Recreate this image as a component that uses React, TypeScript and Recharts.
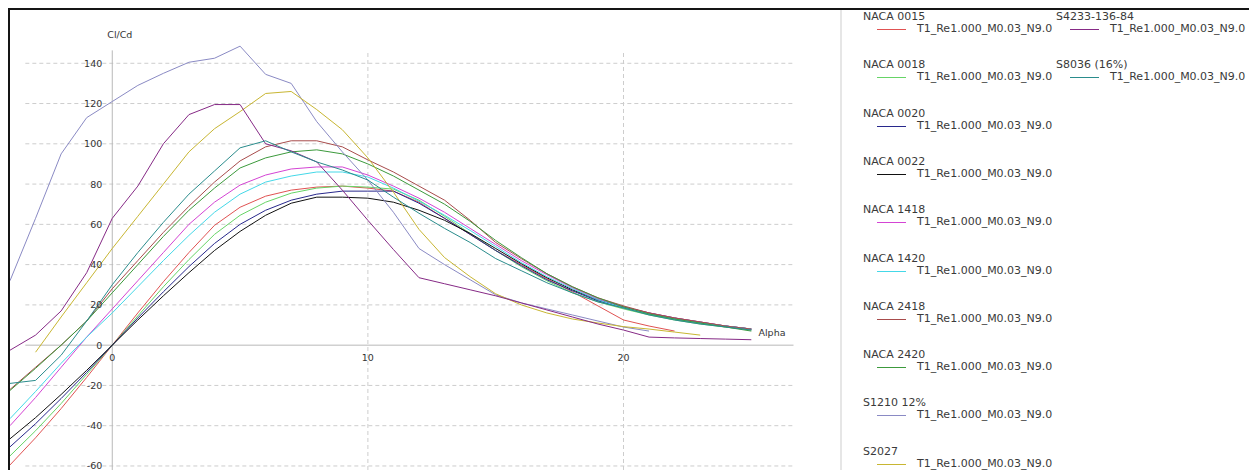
import React from 'react';
import { LineChart, Line, XAxis, YAxis, ReferenceLine, ReferenceDot } from 'recharts';

// angle of attack, one point per degree
const ALPHA = [-4, -3, -2, -1, 0, 1, 2, 3, 4, 5, 6, 7, 8, 9, 10, 11, 12, 13, 14, 15, 16, 17, 18, 19, 20, 21, 22, 23, 24, 25];

// Cl/Cd per airfoil (null = no converged point)
const NACA_0015 = [-59.5, -46, -31.5, -16, 0, 16, 31.5, 46, 59.5, 68.5, 74, 77, 78.5, 79, 78, 76.5, 71, 63, 55, 47, 40, 33, 26.5, 19.5, 12.5, 9.5, 7, null, null, null];
const NACA_0018 = [-55, -42.5, -29, -14.5, 0, 14.5, 29, 42.5, 55, 64.5, 71, 75.5, 78, 79, 78.5, 77.5, 72, 64, 55.5, 47, 39, 32, 26, 21.5, 18, 15, 12.5, 10.5, 9, 7.5];
const NACA_0020 = [-50.5, -39, -26.5, -13.5, 0, 13.5, 26.5, 39, 50.5, 60, 67, 72, 75, 76.5, 76.5, 76.5, 70.5, 63, 55, 47, 39.5, 32.5, 27, 22, 18.5, 15.5, 13, 11, 9.5, 8];
const NACA_0022 = [-46.5, -36, -24.5, -12.5, 0, 12.5, 24.5, 36, 47, 56.5, 64.5, 70.5, 73.5, 73.5, 73, 71, 67, 62, 55.5, 48, 40.5, 33.5, 27.5, 22.5, 19, 16, 13.5, 11.5, 9.5, 8];
const NACA_1418 = [-40, -26, -11, 4, 18, 32, 46, 60, 71, 79.5, 84.5, 87.5, 88.5, 88.5, 84.5, 79, 73, 66, 58, 50, 42, 35, 28.5, 23, 19, 16, 13.5, 11.5, 9.5, 8];
const NACA_1420 = [-36.5, -23, -9, 4, 16, 29, 42, 54.5, 66, 75, 81, 84, 86, 86, 83.5, 78, 71.5, 64.5, 57, 49, 41, 34, 28, 22.5, 18.5, 15.5, 13, 11, 9.5, 8];
const NACA_2418 = [-22, -11, 0, 12, 28, 42, 56, 69, 81, 91.5, 98.5, 101.5, 101.5, 98.5, 92, 86, 79, 72, 62, 51, 43, 35.5, 29, 23.5, 19.5, 16, 13.5, 11.5, 9.5, 8];
const NACA_2420 = [-22.5, -11.5, 0, 12, 26, 40, 54, 67, 78, 88, 93, 96, 97, 95, 90, 84, 77, 70, 61.5, 52, 43.5, 35.5, 29, 23.5, 19, 15.5, 13, 11, 9, 7];
const S1210 = [32, 63, 95, 113, 121, 129, 135, 140.5, 142.5, 148.5, 134.5, 130, 111, 96, 82, 66, 48, 40, 32.5, 25, 21, 18, 15, 12, 9, 7, null, null, null, null];
const S2027 = [null, -3.5, 14, 31, 48, 64, 80, 96, 107.5, 116, 125, 126, 117, 107, 93, 76, 57.5, 43.5, 34, 25.5, 20, 16, 13, 11, 9.2, 8, 6.5, 5, null, null];
const S4233 = [-2.5, 5, 17, 36, 63, 79, 100, 114.5, 119.5, 119.5, 100, 96.5, 91, 77, 62, 47.5, 33.5, 30.5, 27.5, 24.5, 21, 17.5, 14, 10.5, 7.5, 4, 3.6, 3.3, 3, 2.7];
const S8036 = [-19, -17.5, -5, 12, 30, 46, 61, 75, 86.5, 98, 101.5, 96, 91, 87, 82, 73.5, 65.5, 58, 51, 43, 37, 31, 26, 21.5, 18.5, 15, 12.5, 10.5, 9, 7.5];

const Y_TICKS = [-60, -40, -20, 0, 20, 40, 60, 80, 100, 120, 140];
const X_TICKS = [0, 10, 20];
const RUN_LABEL = 'T1_Re1.000_M0.03_N9.0';

const SERIES = [
  { key: 'n0015', name: 'NACA 0015', color: '#e05252', values: NACA_0015, col: 0, row: 0 },
  { key: 'n0018', name: 'NACA 0018', color: '#66d466', values: NACA_0018, col: 0, row: 1 },
  { key: 'n0020', name: 'NACA 0020', color: '#28288c', values: NACA_0020, col: 0, row: 2 },
  { key: 'n0022', name: 'NACA 0022', color: '#111111', values: NACA_0022, col: 0, row: 3 },
  { key: 'n1418', name: 'NACA 1418', color: '#d444d4', values: NACA_1418, col: 0, row: 4 },
  { key: 'n1420', name: 'NACA 1420', color: '#44d8e8', values: NACA_1420, col: 0, row: 5 },
  { key: 'n2418', name: 'NACA 2418', color: '#a84c4c', values: NACA_2418, col: 0, row: 6 },
  { key: 'n2420', name: 'NACA 2420', color: '#3c9a3c', values: NACA_2420, col: 0, row: 7 },
  { key: 's1210', name: 'S1210 12%', color: '#8a8ac4', values: S1210, col: 0, row: 8 },
  { key: 's2027', name: 'S2027', color: '#c8b632', values: S2027, col: 0, row: 9 },
  { key: 's4233', name: 'S4233-136-84', color: '#862a86', values: S4233, col: 1, row: 0 },
  { key: 's8036', name: 'S8036 (16%)', color: '#2a8c8c', values: S8036, col: 1, row: 1 },
];

const data = ALPHA.map((a, i) => {
  const row: any = { alpha: a };
  SERIES.forEach((s) => {
    row[s.key] = s.values[i];
  });
  return row;
});

// extent of the drawn grid / axes
const GX0 = -3.4;
const GX1 = 26.65;
const GY0 = -62;
const GY1 = 146.4;

const tickFont = { fontFamily: 'DejaVu Sans, sans-serif', fontSize: 9.5, fill: '#333' };

const App = () => {
  return (
    <div
      style={{
        position: 'relative',
        width: 1249,
        height: 462,
        borderTop: '2px solid #151515',
        borderLeft: '2px solid #151515',
        boxSizing: 'border-box',
        overflow: 'hidden',
        background: '#fff',
      }}
    >
      <style>{'html,body{overflow:hidden}'}</style>
      <div style={{ position: 'absolute', left: 0, top: 0 }}>
        <LineChart width={830} height={460} data={data} margin={{ top: 13, right: 12, bottom: 0, left: 0 }}>
          <XAxis type="number" dataKey="alpha" domain={[-4, 28]} allowDataOverflow hide />
          <YAxis type="number" domain={[-62, 160]} allowDataOverflow hide />

          {Y_TICKS.filter((v) => v !== 0).map((v) => (
            <ReferenceLine
              key={'h' + v}
              segment={[{ x: GX0, y: v }, { x: GX1, y: v }]}
              stroke="#cdcdcd"
              strokeDasharray="4 3"
              ifOverflow="visible"
            />
          ))}
          {X_TICKS.filter((v) => v !== 0).map((v) => (
            <ReferenceLine
              key={'v' + v}
              segment={[{ x: v, y: GY0 }, { x: v, y: GY1 }]}
              stroke="#cdcdcd"
              strokeDasharray="4 3"
              ifOverflow="visible"
            />
          ))}
          <ReferenceLine segment={[{ x: GX0, y: 0 }, { x: GX1, y: 0 }]} stroke="#b8b8b8" ifOverflow="visible" />
          <ReferenceLine segment={[{ x: 0, y: GY0 }, { x: 0, y: GY1 }]} stroke="#b8b8b8" ifOverflow="visible" />

          {SERIES.map((s) => (
            <Line
              key={s.key}
              type="linear"
              dataKey={s.key}
              stroke={s.color}
              strokeWidth={1}
              dot={false}
              activeDot={false}
              isAnimationActive={false}
            />
          ))}

          {Y_TICKS.map((v) => (
            <ReferenceDot
              key={'yl' + v}
              x={0}
              y={v}
              r={0}
              ifOverflow="visible"
              shape={(p: any) => (
                <text x={p.cx - 10} y={p.cy} textAnchor="end" dominantBaseline="central" {...tickFont}>
                  {v}
                </text>
              )}
            />
          ))}
          {X_TICKS.map((v) => (
            <ReferenceDot
              key={'xl' + v}
              x={v}
              y={0}
              r={0}
              ifOverflow="visible"
              shape={(p: any) => (
                <text x={p.cx} y={p.cy + 12} textAnchor="middle" dominantBaseline="central" {...tickFont}>
                  {v}
                </text>
              )}
            />
          ))}
          <ReferenceDot
            x={0}
            y={GY1}
            r={0}
            ifOverflow="visible"
            shape={(p: any) => (
              <text x={p.cx - 5} y={p.cy - 16} textAnchor="start" dominantBaseline="central" {...tickFont}>
                Cl/Cd
              </text>
            )}
          />
          <ReferenceDot
            x={GX1}
            y={0}
            r={0}
            ifOverflow="visible"
            shape={(p: any) => (
              <text x={p.cx - 35} y={p.cy - 13} textAnchor="start" dominantBaseline="central" {...tickFont}>
                Alpha
              </text>
            )}
          />
        </LineChart>
      </div>

      {/* legend panel */}
      <div
        style={{
          position: 'absolute',
          left: 830,
          top: 0,
          width: 420,
          height: 470,
          borderLeft: '2px solid #e6e6e6',
        }}
      />
      {SERIES.map((s) => (
        <div
          key={'lg' + s.key}
          style={{
            position: 'absolute',
            left: 853 + s.col * 193,
            top: Math.round(1 + s.row * 48.3),
            fontFamily: 'DejaVu Sans, sans-serif',
            fontSize: 11,
            lineHeight: '12px',
            color: '#3a3a3a',
            whiteSpace: 'nowrap',
          }}
        >
          <div style={{ height: 12 }}>{s.name}</div>
          <div style={{ display: 'flex', alignItems: 'flex-start', height: 12 }}>
            <div style={{ marginLeft: 14, marginTop: 6, width: 29, height: 1, background: s.color }} />
            <span style={{ marginLeft: 11 }}>{RUN_LABEL}</span>
          </div>
        </div>
      ))}
    </div>
  );
};

export default App;
